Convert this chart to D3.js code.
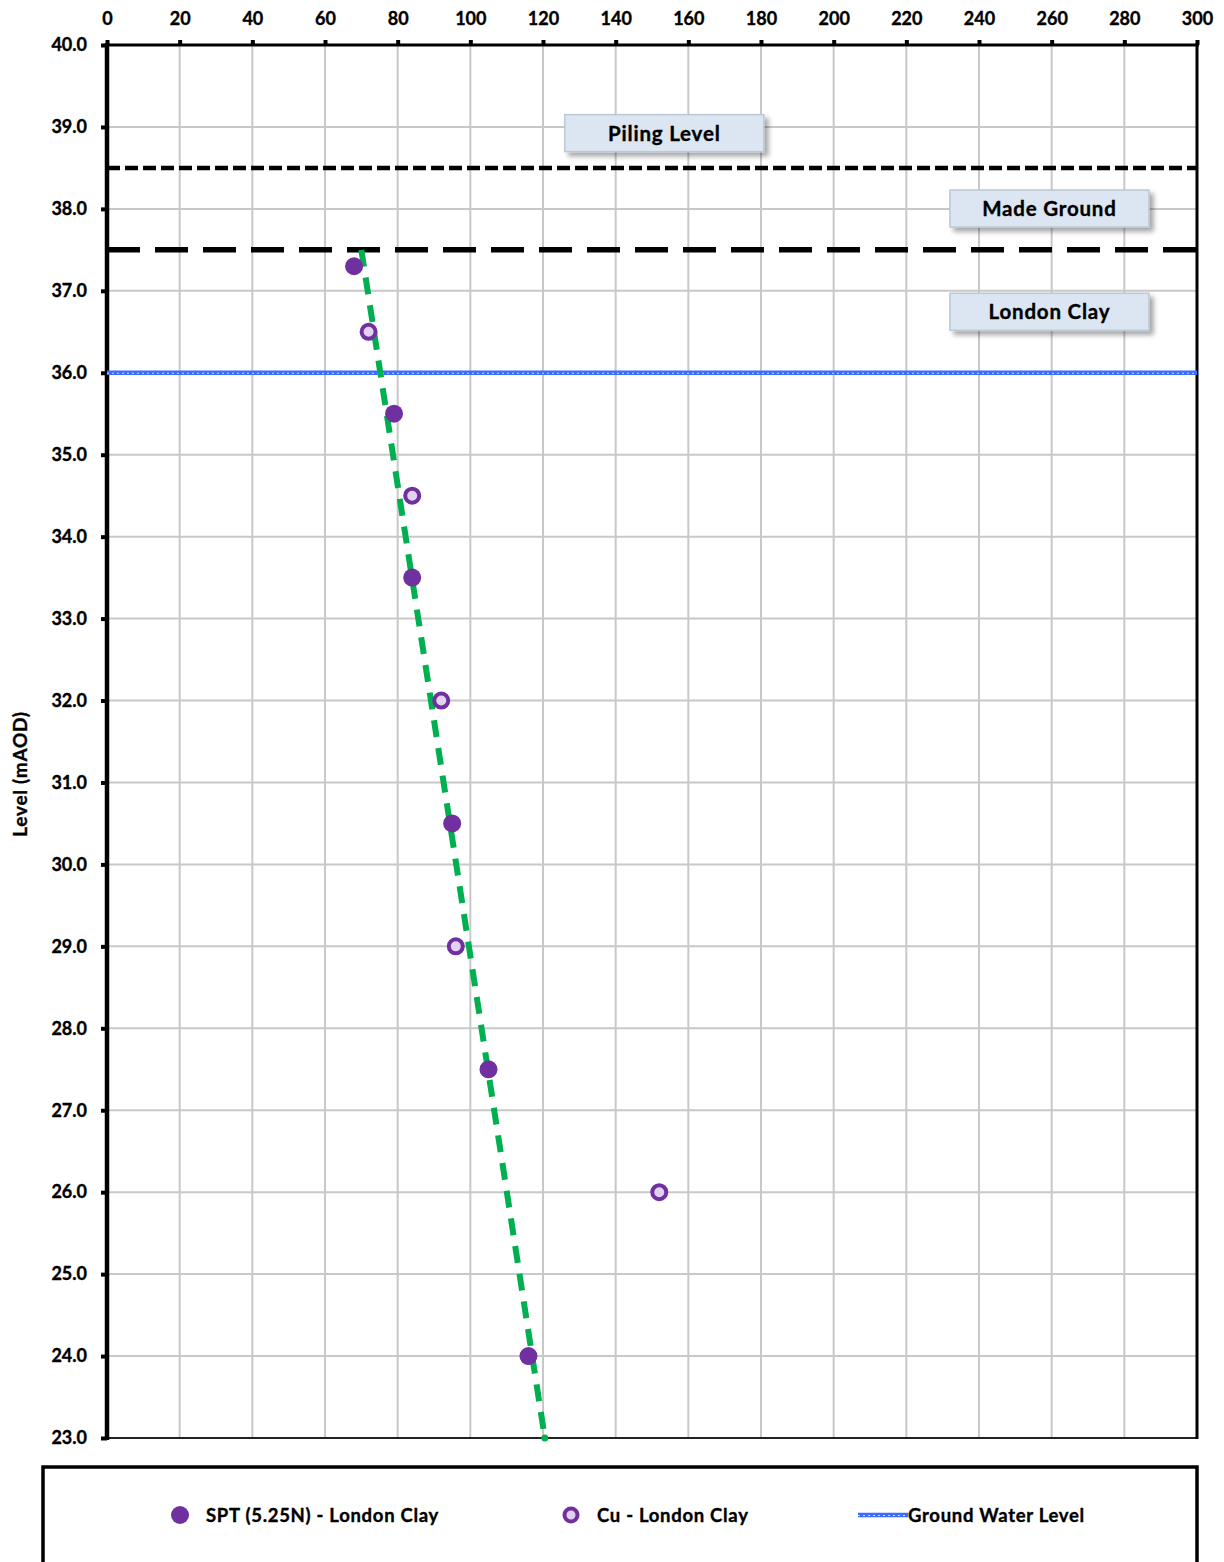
<!DOCTYPE html>
<html>
<head>
<meta charset="utf-8">
<script src="https://cdn.jsdelivr.net/npm/d3@7"></script>
<style>
  html, body { margin: 0; padding: 0; background: #fff; }
  svg { display: block; }
  text { font-family: Lato, "Open Sans", sans-serif; font-weight: bold; fill: #000; stroke: #000; stroke-width: 0.35px; }
</style>
</head>
<body>
<svg id="chart" width="1224" height="1562"></svg>
<script>
// SPT (5.25N) results: [value, level mAOD]
const sptValues = [68, 79, 84, 95, 105, 116];
const sptLevels = [37.3, 35.5, 33.5, 30.5, 27.5, 24.0];
// Undrained shear strength Cu: [value, level mAOD]
const cuValues = [72, 84, 92, 96, 152];
const cuLevels = [36.5, 34.5, 32.0, 29.0, 26.0];
// Design line through London Clay
const designValues = [70, 120.5];
const designLevels = [37.5, 23.0];
// Reference levels
const pilingLevel = 38.5;
const madeGroundBase = 37.5;
const groundWaterLevel = 36.0;
// Axis ticks
const xTicks = d3.range(0, 301, 20);
const yTicks = d3.range(23, 40.01, 1);
// Annotation boxes: label, x value, level
const boxLabels = ["Piling Level", "Made Ground", "London Clay"];
const boxX = [126, 232, 232];
const boxLevels = [39.15, 38.23, 36.97];
// Legend entries
const legendLabels = ["SPT (5.25N) - London Clay", "Cu - London Clay", "Ground Water Level"];

const svg = d3.select("#chart");
const plotL = 107, plotR = 1197, plotT = 45, plotB = 1438;

const x = d3.scaleLinear().domain([0, 300]).range([plotL, plotR]);
const y = d3.scaleLinear().domain([23, 40]).range([plotB, plotT]);

const defs = svg.append("defs");
const sh = defs.append("filter").attr("id", "shadow").attr("x", "-10%").attr("y", "-30%").attr("width", "130%").attr("height", "180%");
sh.append("feDropShadow").attr("dx", 4).attr("dy", 4).attr("stdDeviation", 2.5).attr("flood-color", "#000").attr("flood-opacity", 0.35);

// gridlines
const grid = svg.append("g");
grid.selectAll(".vg").data(xTicks.slice(1, -1)).enter().append("line")
  .attr("x1", d => x(d)).attr("x2", d => x(d)).attr("y1", plotT).attr("y2", plotB)
  .attr("stroke", "#c8c8c8").attr("stroke-width", 2);
grid.selectAll(".hg").data(yTicks.slice(1, -1)).enter().append("line")
  .attr("x1", plotL).attr("x2", plotR).attr("y1", d => y(d)).attr("y2", d => y(d))
  .attr("stroke", "#c8c8c8").attr("stroke-width", 2);

// axes
const xAxis = d3.axisTop(x).tickValues(xTicks).tickSize(5).tickPadding(15).tickFormat(d3.format("d"));
const gx = svg.append("g").attr("transform", `translate(0,${plotT})`).call(xAxis);
gx.select(".domain").remove();
gx.selectAll(".tick line").attr("stroke", "#000").attr("stroke-width", 4);
gx.selectAll(".tick text").style("font-size", "18px").attr("fill", "#000");

const yAxis = d3.axisLeft(y).tickValues(yTicks).tickSize(6).tickPadding(14).tickFormat(d3.format(".1f"));
const gy = svg.append("g").attr("transform", `translate(${plotL},0)`).call(yAxis);
gy.select(".domain").remove();
gy.selectAll(".tick line").attr("stroke", "#000").attr("stroke-width", 4);
gy.selectAll(".tick text").style("font-size", "18px").attr("fill", "#000");

// plot frame
svg.append("line").attr("x1", plotL - 2).attr("x2", plotR + 2).attr("y1", plotT).attr("y2", plotT).attr("stroke", "#000").attr("stroke-width", 3);
svg.append("line").attr("x1", plotL).attr("x2", plotR).attr("y1", plotB).attr("y2", plotB).attr("stroke", "#222").attr("stroke-width", 2);
svg.append("line").attr("x1", plotR).attr("x2", plotR).attr("y1", plotT - 2).attr("y2", plotB + 1).attr("stroke", "#000").attr("stroke-width", 3);
svg.append("line").attr("x1", plotL).attr("x2", plotL).attr("y1", plotT - 2).attr("y2", plotB + 2).attr("stroke", "#000").attr("stroke-width", 4.5);

// y axis title
svg.append("text").attr("transform", `translate(27,774) rotate(-90)`)
  .attr("text-anchor", "middle").style("font-size", "19px").style("letter-spacing", "0.7px").text("Level (mAOD)");

// reference levels
svg.append("line").attr("x1", plotL).attr("x2", plotR).attr("y1", y(pilingLevel)).attr("y2", y(pilingLevel))
  .attr("stroke", "#000").attr("stroke-width", 4.5).attr("stroke-dasharray", "13,5");
svg.append("line").attr("x1", plotL).attr("x2", plotR).attr("y1", y(madeGroundBase)).attr("y2", y(madeGroundBase))
  .attr("stroke", "#000").attr("stroke-width", 5.5).attr("stroke-dasharray", "33,15");
svg.append("line").attr("x1", plotL).attr("x2", plotR).attr("y1", y(groundWaterLevel)).attr("y2", y(groundWaterLevel))
  .attr("stroke", "#3a6cff").attr("stroke-width", 4.5);
svg.append("line").attr("x1", plotL).attr("x2", plotR).attr("y1", y(groundWaterLevel) + 0.5).attr("y2", y(groundWaterLevel) + 0.5)
  .attr("stroke", "#d6e1ff").attr("stroke-width", 1.2).attr("stroke-dasharray", "2,3");

// design line
const designLine = d3.line().x(d => x(d[0])).y(d => y(d[1]));
svg.append("path").datum(d3.zip(designValues, designLevels))
  .attr("d", designLine).attr("fill", "none")
  .attr("stroke", "#00b050").attr("stroke-width", 6).attr("stroke-dasharray", "17,11");
svg.append("circle").attr("cx", x(designValues[1])).attr("cy", y(designLevels[1])).attr("r", 3.5).attr("fill", "#00b050");

// markers
svg.selectAll(".spt").data(d3.zip(sptValues, sptLevels)).enter().append("circle")
  .attr("cx", d => x(d[0])).attr("cy", d => y(d[1])).attr("r", 9).attr("fill", "#7030a0");
svg.selectAll(".cu").data(d3.zip(cuValues, cuLevels)).enter().append("circle")
  .attr("cx", d => x(d[0])).attr("cy", d => y(d[1])).attr("r", 7)
  .attr("fill", "#e2d2f0").attr("stroke", "#7030a0").attr("stroke-width", 4);

// annotation boxes
const boxes = svg.selectAll(".box").data(d3.zip(boxLabels, boxX, boxLevels)).enter().append("g")
  .attr("transform", d => `translate(${x(d[1])},${y(d[2])})`);
boxes.append("rect").attr("x", 0).attr("y", 0).attr("width", 199).attr("height", 37)
  .attr("fill", "#dce6f2").attr("stroke", "#bcc8d6").attr("stroke-width", 1.5).attr("filter", "url(#shadow)");
boxes.append("text").attr("x", 99.5).attr("y", 26).attr("text-anchor", "middle")
  .style("font-size", "20.5px").style("letter-spacing", "0.8px").text(d => d[0]);

// legend
const lg = svg.append("g");
lg.append("rect").attr("x", 43).attr("y", 1467).attr("width", 1154).attr("height", 110)
  .attr("fill", "#fff").attr("stroke", "#000").attr("stroke-width", 3.5);
const ly = 1515;
lg.append("circle").attr("cx", 180).attr("cy", ly).attr("r", 9).attr("fill", "#7030a0");
lg.append("text").attr("x", 206).attr("y", ly + 7).style("font-size", "18.5px").style("letter-spacing", "0.7px").text(legendLabels[0]);
lg.append("circle").attr("cx", 571).attr("cy", ly).attr("r", 6.5)
  .attr("fill", "#e2d2f0").attr("stroke", "#7030a0").attr("stroke-width", 4);
lg.append("text").attr("x", 597).attr("y", ly + 7).style("font-size", "18.5px").style("letter-spacing", "0.7px").text(legendLabels[1]);
lg.append("line").attr("x1", 858).attr("x2", 908).attr("y1", ly).attr("y2", ly).attr("stroke", "#3a6cff").attr("stroke-width", 4.5);
lg.append("line").attr("x1", 858).attr("x2", 908).attr("y1", ly + 0.5).attr("y2", ly + 0.5)
  .attr("stroke", "#d6e1ff").attr("stroke-width", 1.2).attr("stroke-dasharray", "2,3");
lg.append("text").attr("x", 908).attr("y", ly + 7).style("font-size", "18.5px").style("letter-spacing", "0.7px").text(legendLabels[2]);
</script>
</body>
</html>
